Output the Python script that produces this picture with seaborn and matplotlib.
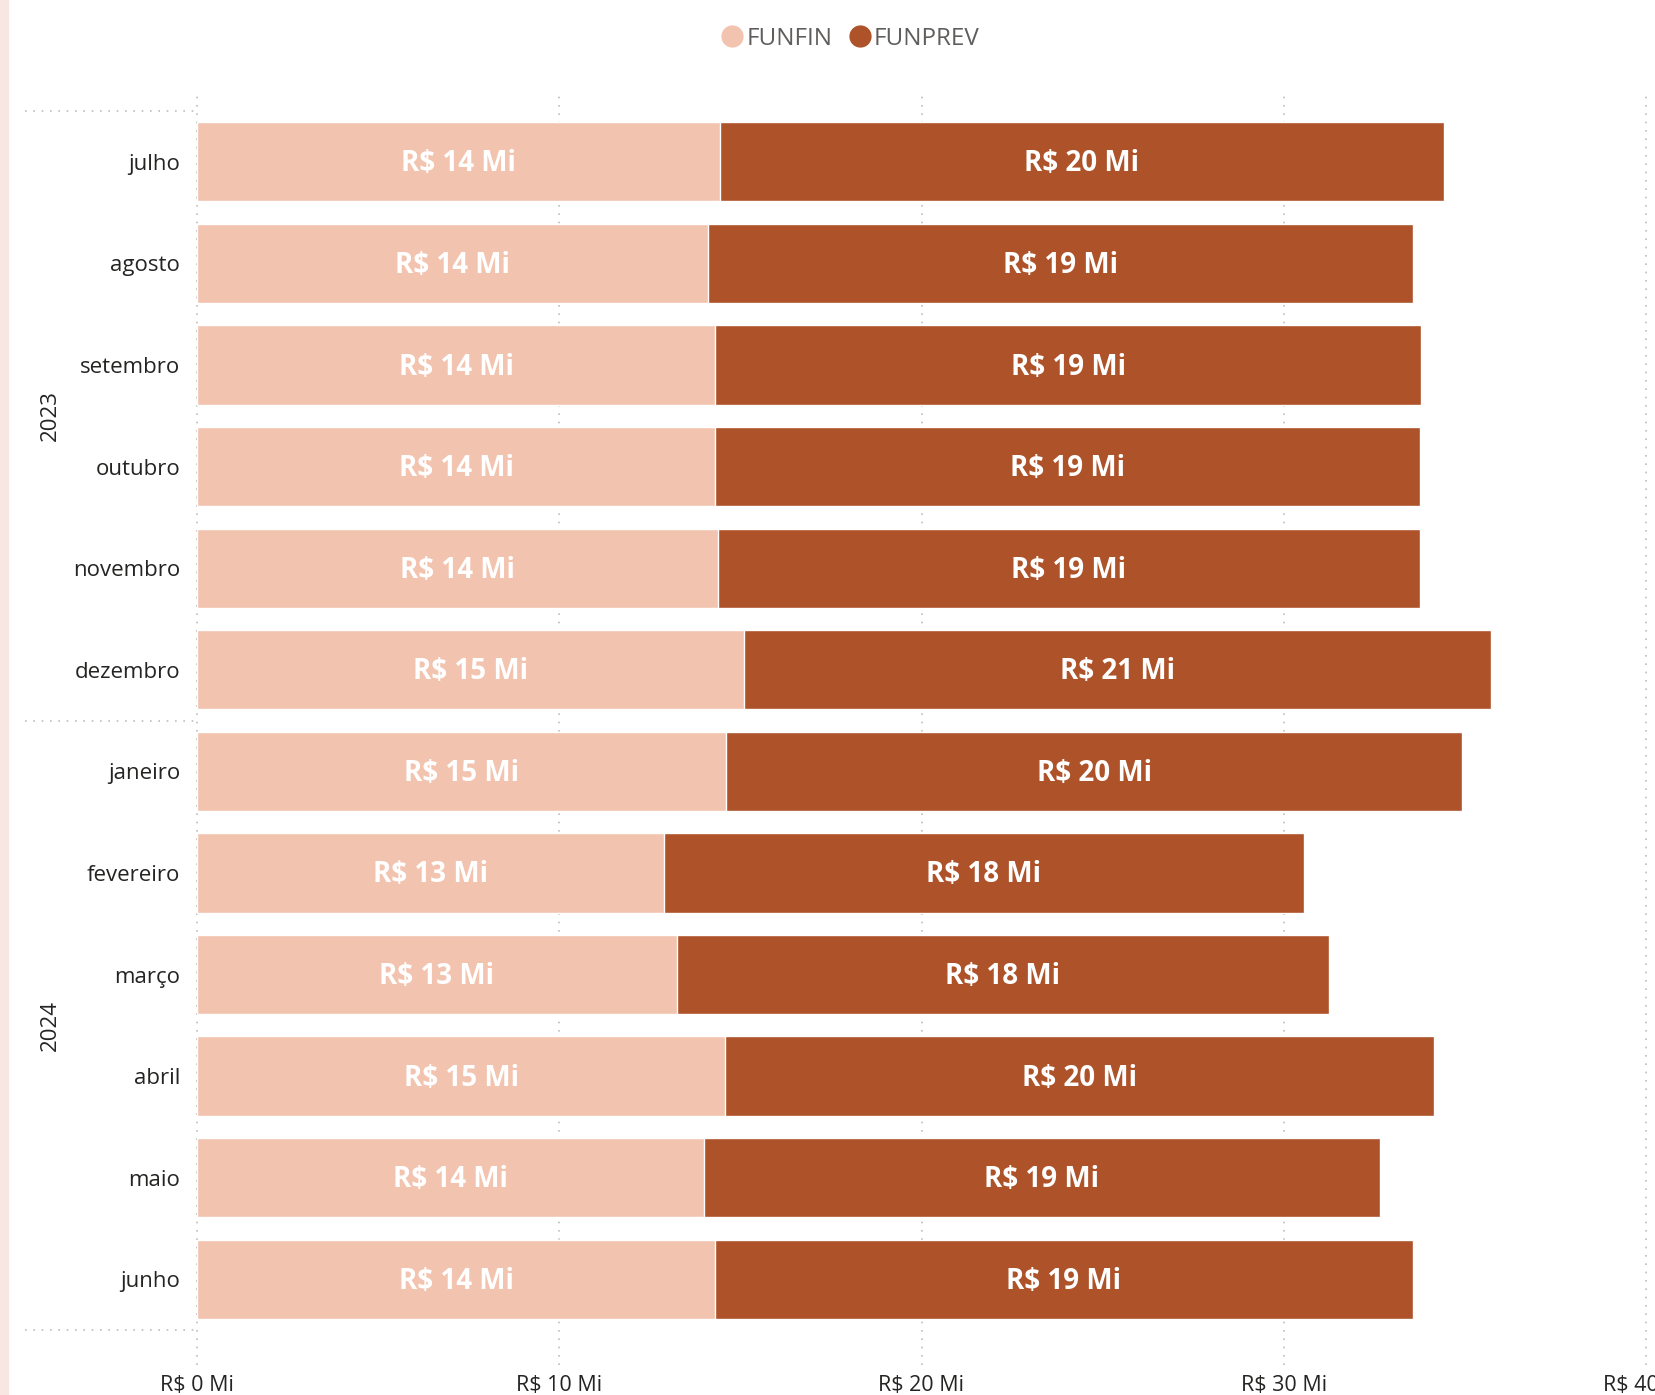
import numpy as np
import pandas as pd
import seaborn as sns
import matplotlib.pyplot as plt
from matplotlib.patches import Rectangle

# --- data ---
months = ['julho', 'agosto', 'setembro', 'outubro', 'novembro', 'dezembro',
          'janeiro', 'fevereiro', 'março', 'abril', 'maio', 'junho']
years = ['2023', '2024']
funfin = [14.43, 14.11, 14.31, 14.31, 14.37, 15.10, 14.61, 12.89, 13.24, 14.58, 13.99, 14.31]
funprev = [20.00, 19.45, 19.48, 19.45, 19.39, 20.61, 20.32, 17.67, 18.02, 19.56, 18.66, 19.25]
xticks = [0, 10, 20, 30, 40]

light = '#F2C4AF'
dark = '#AD5229'

df = pd.DataFrame({'mes': months, 'FUNFIN': funfin, 'FUNPREV': funprev})
df['total'] = df['FUNFIN'] + df['FUNPREV']

sns.set_style('white')
plt.rcParams['font.family'] = ['Open Sans', 'DejaVu Sans']

fig = plt.figure(figsize=(16.55, 13.95), dpi=100)
ax = fig.add_axes([197 / 1655, 1 - 1365 / 1395, 1449 / 1655, 1275 / 1395])

# stacked bars: total underneath, FUNFIN on top
sns.barplot(data=df, x='total', y='mes', color=dark, width=0.78, saturation=1,
            ax=ax, zorder=3)
sns.barplot(data=df, x='FUNFIN', y='mes', color=light, width=0.78, saturation=1,
            ax=ax, zorder=4)

# value labels
for i, row in df.iterrows():
    ax.text(row['FUNFIN'] / 2, i + 0.02, f"R$ {row['FUNFIN']:.0f} Mi", ha='center', va='center',
            color='white', fontsize=20, fontweight='bold', zorder=5)
    ax.text(row['FUNFIN'] + row['FUNPREV'] / 2, i + 0.02, f"R$ {row['FUNPREV']:.0f} Mi",
            ha='center', va='center', color='white', fontsize=20, fontweight='bold', zorder=5)

ax.set_xlim(0, 40)
ax.set_ylim(11.844, -0.707)
ax.set_xticks(xticks)
ax.set_xticklabels([f'R$ {v} Mi' for v in xticks])
ax.set_xlabel('')
ax.set_ylabel('')
ax.tick_params(axis='x', length=0, pad=7, labelsize=15.5, labelcolor='#252423')
ax.tick_params(axis='y', length=0, pad=12, labelsize=16, labelcolor='#252423')
for s in ax.spines.values():
    s.set_visible(False)

# dotted vertical gridlines
for v in xticks:
    ax.axvline(v, color='#bdbdbd', linestyle=(0, (1, 4)), linewidth=1.2, zorder=1, clip_on=False)

# group separators and year labels on the left
trans = ax.get_yaxis_transform()
for yb in [-0.5, 5.5, 11.5]:
    ax.plot([-0.1187, 0], [yb, yb], transform=trans, color='#bdbdbd',
            linestyle=(0, (1, 4)), linewidth=1.2, clip_on=False)
for yr, yc in zip(years, [2.5, 8.5]):
    ax.text(-0.1010, yc, yr, transform=trans, rotation=90, ha='center', va='center',
            fontsize=16, color='#252423')

# legend
handles = [plt.Line2D([], [], marker='o', linestyle='', markersize=15, color=c)
           for c in [light, dark]]
fig.legend(handles, ['FUNFIN', 'FUNPREV'], loc='center', bbox_to_anchor=(850 / 1655, 1 - 39 / 1395),
           ncol=2, frameon=False, fontsize=17.5, labelcolor='#605E5C',
           handletextpad=0.1, columnspacing=0.6, handlelength=1.0)

# pale strip at the left edge
fig.patches.append(Rectangle((0, 0), 8 / 1655, 1, transform=fig.transFigure,
                             color='#F7E6E1', zorder=0))

fig.savefig('out.png', dpi=100)
